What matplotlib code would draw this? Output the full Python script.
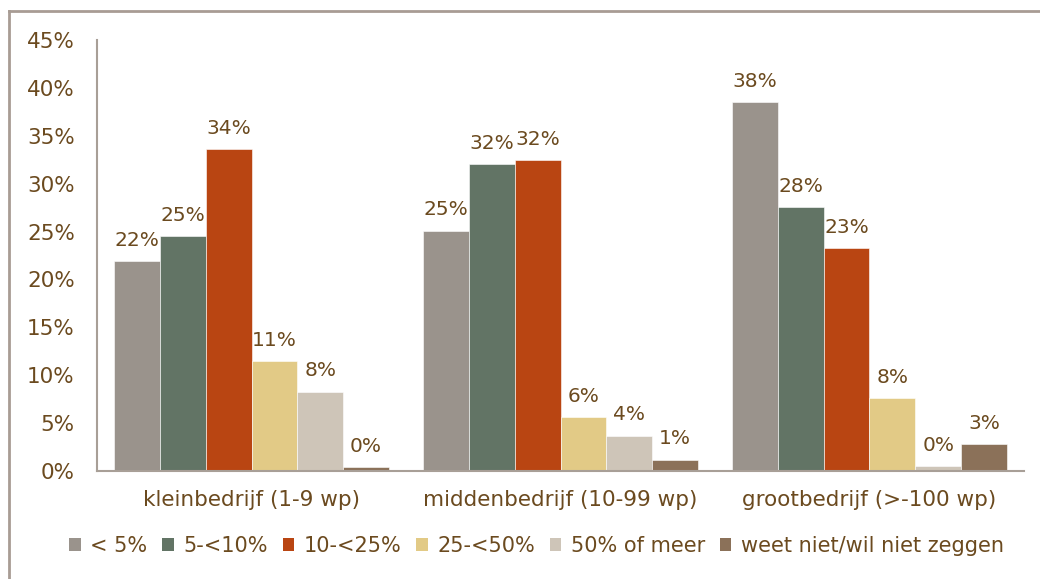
import matplotlib
matplotlib.use("Agg")
import matplotlib.pyplot as plt
import numpy as np
from matplotlib.lines import Line2D
from matplotlib.patches import Patch

categories = ["kleinbedrijf (1-9 wp)", "middenbedrijf (10-99 wp)", "grootbedrijf (>-100 wp)"]
series = ["< 5%", "5-<10%", "10-<25%", "25-<50%", "50% of meer", "weet niet/wil niet zeggen"]
values = [
    [21.9, 24.5, 33.6, 11.5, 8.3, 0.4],
    [25.1, 32.0, 32.5, 5.6, 3.7, 1.2],
    [38.5, 27.6, 23.3, 7.6, 0.5, 2.8],
]
labels = [
    ["22%", "25%", "34%", "11%", "8%", "0%"],
    ["25%", "32%", "32%", "6%", "4%", "1%"],
    ["38%", "28%", "23%", "8%", "0%", "3%"],
]
colors = ["#9A938C", "#627465", "#B94512", "#E2CA86", "#CEC5B8", "#8B7159"]
yticks = [0, 5, 10, 15, 20, 25, 30, 35, 40, 45]
ytick_labels = ["0%", "5%", "10%", "15%", "20%", "25%", "30%", "35%", "40%", "45%"]

text_color = "#6B4A1F"
spine_color = "#A89F97"

fig = plt.figure(figsize=(10.4, 5.79), dpi=100)
ax = fig.add_axes([0.0933, 0.1865, 0.8913, 0.7445])

n = len(series)
width = 0.89 / n
x = np.arange(len(categories))
vals = np.array(values)
for i in range(n):
    pos = x - 0.445 + width * (i + 0.5)
    bars = ax.bar(pos, vals[:, i], width=width, color=colors[i], edgecolor="white", linewidth=0.4)
    for b, lab in zip(bars, [labels[g][i] for g in range(len(categories))]):
        ax.annotate(lab, (b.get_x() + b.get_width() / 2, b.get_height()),
                    xytext=(0, 8), textcoords="offset points", ha="center", va="bottom",
                    fontsize=14.5, color=text_color)

ax.set_xlim(-0.5, len(categories) - 0.5)
ax.set_ylim(0, 45)
ax.set_yticks(yticks)
ax.set_yticklabels(ytick_labels)
ax.set_xticks(x)
ax.set_xticklabels(categories)
ax.tick_params(axis="both", length=0, labelsize=15.5, labelcolor=text_color)
ax.tick_params(axis="y", pad=16)
ax.tick_params(axis="x", pad=14)
for s in ["top", "right"]:
    ax.spines[s].set_visible(False)
for s in ["left", "bottom"]:
    ax.spines[s].set_color(spine_color)
    ax.spines[s].set_linewidth(1.5)

handles = [Patch(facecolor=c, edgecolor="none") for c in colors]
leg = fig.legend(handles, series, loc="center", bbox_to_anchor=(0.516, 0.057), ncol=n,
                 frameon=False, fontsize=15, handlelength=0.55, handleheight=0.55,
                 handletextpad=0.45, columnspacing=0.72, labelcolor=text_color)

# outer frame (left & top edges visible)
fig.add_artist(Line2D([9 / 1040, 9 / 1040], [0, 1 - 11 / 579], transform=fig.transFigure,
                      color="#A89C94", linewidth=2))
fig.add_artist(Line2D([9 / 1040, 1], [1 - 11 / 579, 1 - 11 / 579], transform=fig.transFigure,
                      color="#A89C94", linewidth=2))

fig.savefig("out.png", dpi=100)
